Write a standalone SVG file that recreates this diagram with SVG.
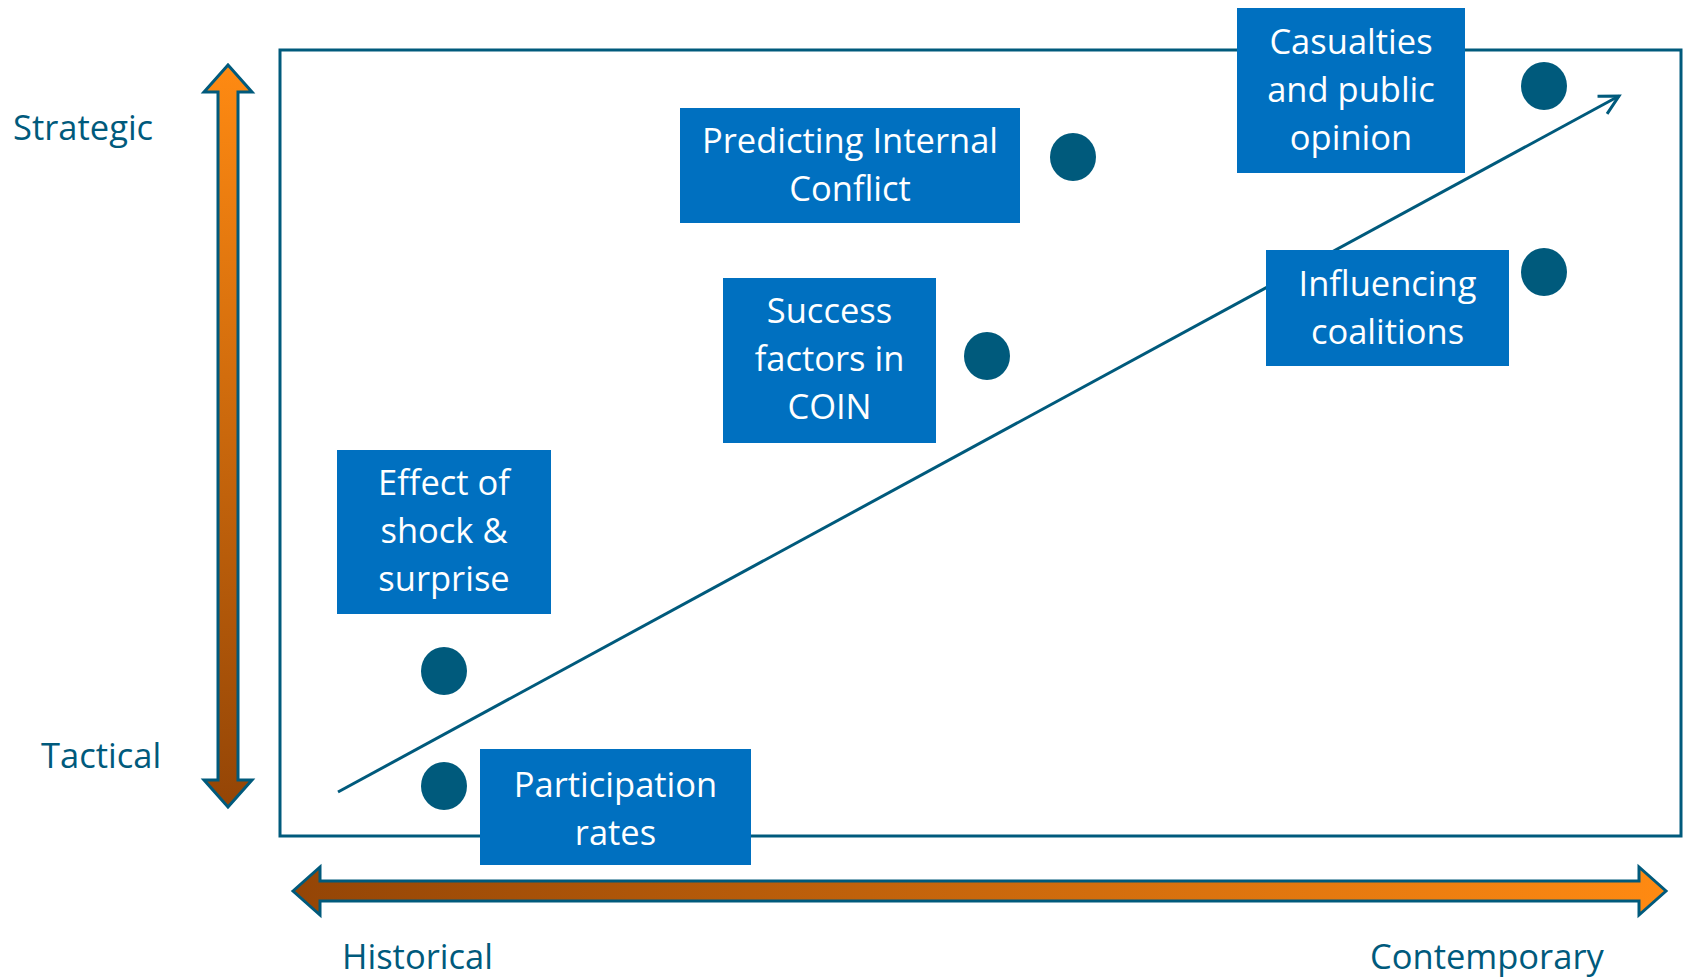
<svg xmlns="http://www.w3.org/2000/svg" width="1688" height="978" viewBox="0 0 1688 978">
<style>
.lbl{font-family:"Open Sans","Noto Sans",sans-serif;font-size:34.5px;fill:#005A7C}
.bt{font-family:"Open Sans","Noto Sans",sans-serif;font-size:34.5px;fill:#ffffff;text-anchor:middle}
.box{fill:#0070C0}
.dot{fill:#005A7C}
.frame{fill:none;stroke:#005A7C;stroke-width:3}
.axis{stroke:#005A7C;stroke-width:3;stroke-linejoin:miter}
.diag{fill:none;stroke:#005A7C;stroke-width:3}
</style>
<defs>
<linearGradient id="gv" x1="0" y1="0" x2="0" y2="1">
<stop offset="0" stop-color="#FF8A12"/>
<stop offset="1" stop-color="#944506"/>
</linearGradient>
<linearGradient id="gh" x1="0" y1="0" x2="1" y2="0">
<stop offset="0" stop-color="#944506"/>
<stop offset="1" stop-color="#FF8A12"/>
</linearGradient>
<marker id="open" markerUnits="userSpaceOnUse" markerWidth="26" markerHeight="26" refX="22" refY="13" orient="auto" viewBox="0 0 26 26">
<path d="M3,3 L22,13 L3,23" fill="none" stroke="#005A7C" stroke-width="3"/>
</marker>
</defs>
<rect width="1688" height="978" fill="#ffffff"/>
<rect class="frame" x="280" y="50" width="1401" height="786"/>
<g id="axis-vertical">
<polygon class="axis" fill="url(#gv)" points="228,65 252,92 238,92 238,780 252,780 228,807 204,780 218,780 218,92 204,92"/>
</g>
<g id="axis-horizontal">
<polygon class="axis" fill="url(#gh)" points="293,891 320,867 320,881 1639,881 1639,867 1666,891 1639,915 1639,901 320,901 320,915"/>
</g>
<g id="label-strategic"><text class="lbl" x="13" y="140">Strategic</text></g>
<g id="label-tactical"><text class="lbl" x="41" y="768">Tactical</text></g>
<g id="label-historical"><text class="lbl" x="342" y="969">Historical</text></g>
<g id="label-contemporary"><text class="lbl" x="1370" y="969">Contemporary</text></g>
<g id="connectors">
<line class="diag" x1="338" y1="792" x2="1619" y2="96" marker-end="url(#open)"/>
</g>
<g id="dot-casualties"><ellipse class="dot" cx="1544" cy="86" rx="23" ry="24"/></g>
<g id="dot-predicting"><ellipse class="dot" cx="1073" cy="157" rx="23" ry="24"/></g>
<g id="dot-success"><ellipse class="dot" cx="987" cy="356" rx="23" ry="24"/></g>
<g id="dot-influencing"><ellipse class="dot" cx="1544" cy="272" rx="23" ry="24"/></g>
<g id="dot-effect"><ellipse class="dot" cx="444" cy="671" rx="23" ry="24"/></g>
<g id="dot-participation"><ellipse class="dot" cx="444" cy="786" rx="23" ry="24"/></g>
<g id="node-casualties">
<rect class="box" x="1237" y="8" width="228" height="165"/>
<text class="bt" x="1351" y="54">Casualties</text>
<text class="bt" x="1351" y="102">and public</text>
<text class="bt" x="1351" y="150">opinion</text>
</g>
<g id="node-predicting">
<rect class="box" x="680" y="108" width="340" height="115"/>
<text class="bt" x="850" y="153">Predicting Internal</text>
<text class="bt" x="850" y="201">Conflict</text>
</g>
<g id="node-success">
<rect class="box" x="723" y="278" width="213" height="165"/>
<text class="bt" x="829.5" y="323">Success</text>
<text class="bt" x="829.5" y="371">factors in</text>
<text class="bt" x="829.5" y="419">COIN</text>
</g>
<g id="node-influencing">
<rect class="box" x="1266" y="250" width="243" height="116"/>
<text class="bt" x="1387.5" y="296">Influencing</text>
<text class="bt" x="1387.5" y="344">coalitions</text>
</g>
<g id="node-effect">
<rect class="box" x="337" y="450" width="214" height="164"/>
<text class="bt" x="444" y="495">Effect of</text>
<text class="bt" x="444" y="543">shock &amp;</text>
<text class="bt" x="444" y="591">surprise</text>
</g>
<g id="node-participation">
<rect class="box" x="480" y="749" width="271" height="116"/>
<text class="bt" x="615.5" y="797">Participation</text>
<text class="bt" x="615.5" y="845">rates</text>
</g>
</svg>
